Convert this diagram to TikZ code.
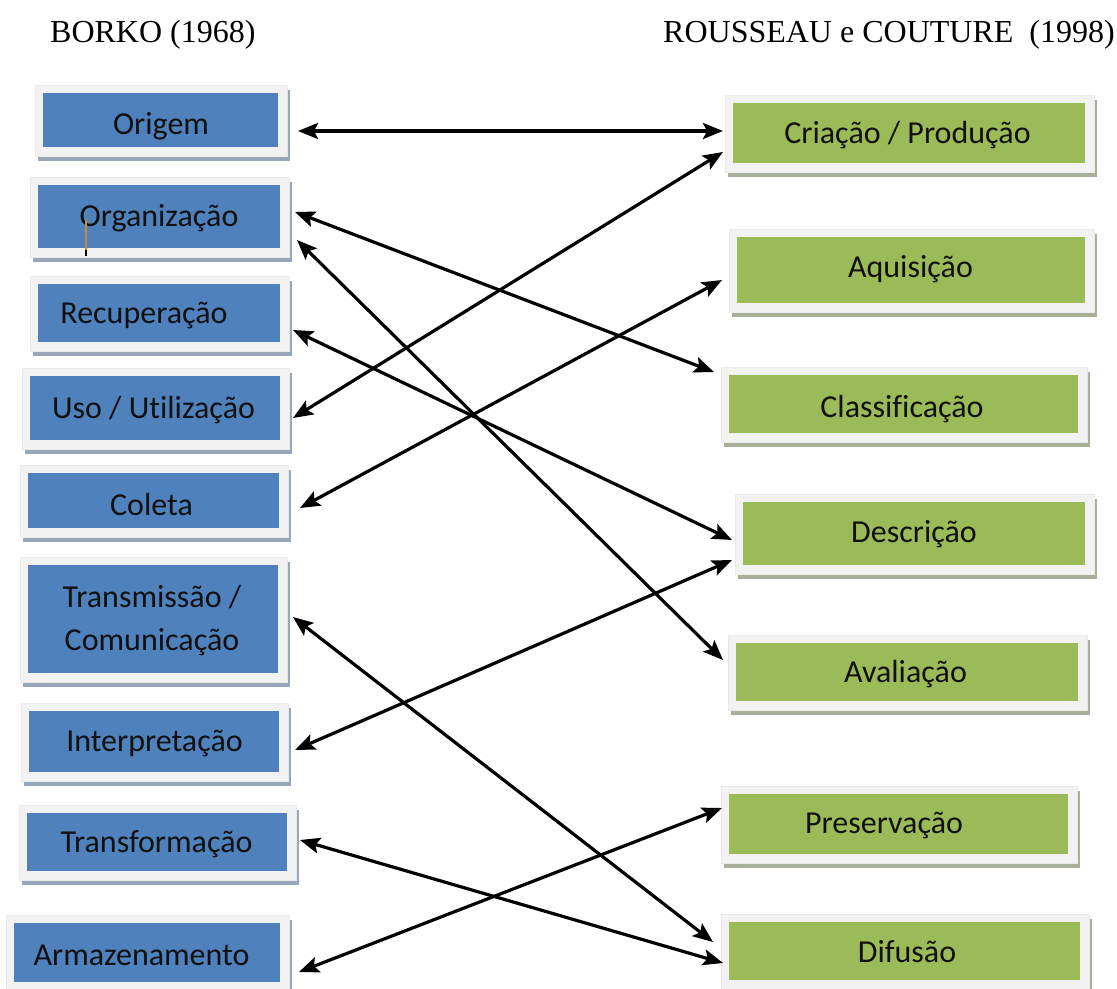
\documentclass[tikz,border=0pt]{standalone}
\usepackage{fontspec}
\setmainfont{Liberation Serif}
\newfontfamily\boxfont[Ligatures=NoCommon]{Carlito}
\usetikzlibrary{fit,arrows.meta,calc}
\definecolor{bblue}{HTML}{4F81BD}
\definecolor{bgreen}{HTML}{9BBB59}
\definecolor{framec}{HTML}{F2F2F2}
\definecolor{framed}{HTML}{EAEAEA}
\definecolor{bshadow}{HTML}{97A6BA}
\definecolor{gshadow}{HTML}{A9B09A}
\definecolor{txtc}{HTML}{111111}
\definecolor{cursorc}{HTML}{C8883A}
\newcommand\drawbox[7]{% name, fill, shadow, x1, y1, x2, y2 (inner box)
  \fill[#3] (#4-8+3,#5-8+5) rectangle (#6+9+3,#7+9+5);
  \filldraw[fill=framec, draw=framed, line width=0.6bp] (#4-8,#5-8) rectangle (#6+9,#7+9);
  \node[fit={(#4,#5) (#6,#7)}, inner sep=0pt, outer sep=0pt, fill=#2] (#1) {};
}
\tikzset{
  lbl/.style={font=\boxfont\fontsize{32bp}{38bp}\selectfont, text=txtc, inner sep=0pt, anchor=base},
  title/.style={font=\fontsize{32bp}{38bp}\selectfont, text=black, inner sep=0pt, anchor=base west},
  link/.style={line width=3.2bp, >={Stealth[length=20bp,width=16bp,inset=4bp]}, <->}
}
\begin{document}
\begin{tikzpicture}[x=1bp,y=-1bp]
\useasboundingbox (0,0) rectangle (1117,989);
\fill[white] (0,0) rectangle (1117,989);

\node[title] (t1) at (50,42) {BORKO (1968)};
\node[title] (t2) at (663,42) {ROUSSEAU e COUTURE~~(1998)};

% left column
\drawbox{orig}{bblue}{bshadow}{43}{93}{278}{147}
\drawbox{org}{bblue}{bshadow}{38}{185}{280}{248}
\drawbox{rec}{bblue}{bshadow}{38}{284}{280}{342}
\drawbox{uso}{bblue}{bshadow}{30}{376}{280}{440}
\drawbox{col}{bblue}{bshadow}{28}{473}{279}{528}
\drawbox{trans}{bblue}{bshadow}{28}{565}{278}{673}
\drawbox{interp}{bblue}{bshadow}{29}{711}{279}{772}
\drawbox{transf}{bblue}{bshadow}{27}{813}{287}{871}
\drawbox{arm}{bblue}{bshadow}{14}{923}{280}{982}

% right column
\drawbox{cria}{bgreen}{gshadow}{733}{103}{1085}{163}
\drawbox{aqui}{bgreen}{gshadow}{737}{237}{1085}{303}
\drawbox{class}{bgreen}{gshadow}{729}{375}{1078}{433}
\drawbox{desc}{bgreen}{gshadow}{743}{502}{1085}{565}
\drawbox{aval}{bgreen}{gshadow}{736}{643}{1078}{701}
\drawbox{pres}{bgreen}{gshadow}{729}{794}{1068}{854}
\drawbox{dif}{bgreen}{gshadow}{729}{922}{1080}{980}

% labels
\node[lbl] (orig-t) at (161,134) {Origem};
\node[lbl] (org-t) at (159,226) {Organização};
\node[lbl] (rec-t) at (144,323) {Recuperação};
\node[lbl] (uso-t) at (153.5,418) {Uso / Utilização};
\node[lbl] (col-t) at (151.5,515) {Coleta};
\node[lbl] (trans-t1) at (152,607) {Transmissão /};
\node[lbl] (trans-t2) at (152,650) {Comunicação};
\node[lbl] (interp-t) at (154.5,751) {Interpretação};
\node[lbl] (transf-t) at (156.5,852) {Transformação};
\node[lbl] (arm-t) at (141.5,965) {Armazenamento};

\node[lbl] (cria-t) at (907.5,143) {Criação / Produção};
\node[lbl] (aqui-t) at (910.5,277) {Aquisição};
\node[lbl] (class-t) at (902,417) {Classificação};
\node[lbl] (desc-t) at (914,542) {Descrição};
\node[lbl] (aval-t) at (905.5,682) {Avaliação};
\node[lbl] (pres-t) at (884,833) {Preservação};
\node[lbl] (dif-t) at (907,962) {Difusão};

% cursor mark
\draw[cursorc, line width=2bp] (86,219) -- (86,250);
\draw[black, line width=2bp] (86,250) -- (86,256);

% connectors
\draw[link] ([shift={(20,11)}]orig.east) -- ([shift={(-10,-2)}]cria.west);
\draw[link] ([shift={(13,10)}]uso.east) -- ([shift={(-10,19)}]cria.west);
\draw[link] ([shift={(15,-4.5)}]org.east) -- ([shift={(-15,-32)}]class.west);
\draw[link] ([shift={(17,23.5)}]org.east) -- ([shift={(-13,-12)}]aval.west);
\draw[link] ([shift={(13,17)}]rec.east) -- ([shift={(-11,6.5)}]desc.west);
\draw[link] ([shift={(21,7.5)}]col.east) -- ([shift={(-15,10)}]aqui.west);
\draw[link] ([shift={(16,8.5)}]interp.east) -- ([shift={(-11,26.5)}]desc.west);
\draw[link] ([shift={(15,-2)}]trans.east) -- ([shift={(-16,-9)}]dif.west);
\draw[link] ([shift={(13,-2)}]transf.east) -- ([shift={(-6,12)}]dif.west);
\draw[link] ([shift={(19,19.5)}]arm.east) -- ([shift={(-7,-16)}]pres.west);
\end{tikzpicture}
\end{document}
